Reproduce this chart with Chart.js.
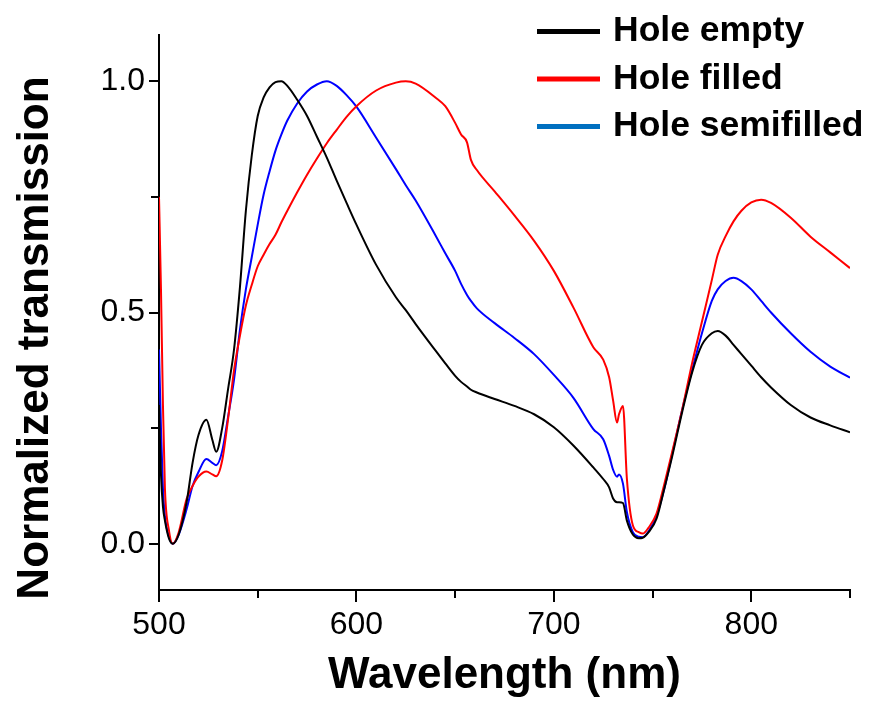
<!DOCTYPE html>
<html>
<head>
<meta charset="utf-8">
<script src="https://cdn.jsdelivr.net/npm/chart.js@4.4.0/dist/chart.umd.min.js"></script>
<style>
  html, body { margin: 0; padding: 0; background: #fff; }
  #wrap { width: 875px; height: 702px; position: relative; }
</style>
</head>
<body>
<div id="wrap"><canvas id="myChart"></canvas></div>
<script>
// wavelength grid (nm) shared by the three spectra
var wavelength = [500, 501, 502, 503, 505, 507, 510, 514, 517, 520,
  524, 527, 529, 532, 535, 538, 541, 544, 547, 550,
  553, 556, 559, 562, 565, 570, 575, 580, 585, 590,
  595, 600, 610, 620, 625, 630, 640, 645, 650, 653,
  656, 658, 661, 670, 680, 690, 700, 710, 720, 725,
  728, 730, 732, 733, 735, 737, 740, 743, 745, 748,
  752, 756, 760, 765, 770, 775, 780, 783, 787, 791,
  795, 800, 805, 810, 820, 830, 840, 850];

var holeEmpty = [0.30, 0.15, 0.08, 0.05, 0.012, 0.0, 0.02, 0.09, 0.175, 0.235,
  0.268, 0.225, 0.199, 0.25, 0.335, 0.42, 0.555, 0.72, 0.84, 0.925,
  0.965, 0.987, 0.998, 1.0, 0.99, 0.96, 0.925, 0.88, 0.835, 0.785,
  0.737, 0.69, 0.603, 0.533, 0.505, 0.475, 0.418, 0.39, 0.363, 0.35,
  0.34, 0.333, 0.327, 0.313, 0.298, 0.28, 0.252, 0.212, 0.165, 0.14,
  0.122, 0.098, 0.09, 0.09, 0.088, 0.05, 0.02, 0.012, 0.013, 0.025,
  0.054, 0.12, 0.19, 0.285, 0.37, 0.43, 0.455, 0.46, 0.45, 0.43,
  0.41, 0.385, 0.36, 0.338, 0.3, 0.273, 0.256, 0.241];

var holeFilled = [0.75, 0.55, 0.30, 0.12, 0.03, 0.0, 0.025, 0.097, 0.125, 0.145,
  0.156, 0.15, 0.146, 0.18, 0.27, 0.375, 0.45, 0.515, 0.56, 0.6,
  0.625, 0.648, 0.668, 0.695, 0.72, 0.76, 0.798, 0.833, 0.866, 0.895,
  0.923, 0.946, 0.98, 0.997, 1.0, 0.995, 0.965, 0.946, 0.91, 0.885,
  0.868, 0.83, 0.808, 0.762, 0.71, 0.655, 0.59, 0.51, 0.425, 0.398,
  0.36, 0.31, 0.262, 0.28, 0.298, 0.14, 0.04, 0.025, 0.022, 0.035,
  0.065, 0.13, 0.2, 0.29, 0.39, 0.48, 0.57, 0.625, 0.665, 0.697,
  0.72, 0.738, 0.744, 0.737, 0.705, 0.664, 0.63, 0.596];

var holeSemifilled = [0.42, 0.25, 0.12, 0.06, 0.015, 0.0, 0.02, 0.075, 0.125, 0.155,
  0.183, 0.175, 0.17, 0.2, 0.275, 0.355, 0.463, 0.55, 0.62, 0.69,
  0.755, 0.805, 0.85, 0.885, 0.915, 0.952, 0.978, 0.993, 1.0, 0.99,
  0.97, 0.945, 0.878, 0.81, 0.775, 0.742, 0.667, 0.628, 0.59, 0.562,
  0.538, 0.525, 0.509, 0.477, 0.445, 0.41, 0.365, 0.315, 0.248, 0.226,
  0.19, 0.16, 0.145, 0.15, 0.13, 0.068, 0.025, 0.015, 0.014, 0.027,
  0.06, 0.12, 0.195, 0.29, 0.375, 0.455, 0.525, 0.55, 0.568, 0.575,
  0.568, 0.55, 0.525, 0.5, 0.455, 0.415, 0.383, 0.359];

var seriesNames = ['Hole empty', 'Hole filled', 'Hole semifilled'];
var xTicks = [500, 600, 700, 800];
var xMinorTicks = [550, 650, 750, 850];
var yTicks = [0, 0.5, 1.0];
var yMinorTicks = [0.25, 0.75];

var FONT = '"Liberation Sans", Arial, sans-serif';
var lineColors = ['#000000', '#ff0000', '#0000ff'];
var legendColors = ['#000000', '#ff0000', '#0070c0'];

function toPoints(values) {
  return wavelength.map(function (w, i) { return { x: w, y: values[i] }; });
}

// minor ticks, rotated y title and the legend in the top right corner
var extras = {
  id: 'extras',
  afterDraw: function (chart) {
    var ctx = chart.ctx, xs = chart.scales.x, ys = chart.scales.y;
    ctx.save();
    ctx.strokeStyle = '#000';
    ctx.lineWidth = 2;
    xMinorTicks.forEach(function (v) {
      var px = Math.round(xs.getPixelForValue(v));
      ctx.beginPath();
      ctx.moveTo(px, ys.bottom);
      ctx.lineTo(px, ys.bottom + 8);
      ctx.stroke();
    });
    yMinorTicks.forEach(function (v) {
      var py = Math.round(ys.getPixelForValue(v));
      ctx.beginPath();
      ctx.moveTo(xs.left - 8, py);
      ctx.lineTo(xs.left, py);
      ctx.stroke();
    });

    ctx.save();
    ctx.translate(36, 338);
    ctx.rotate(-Math.PI / 2);
    ctx.font = 'bold 44px ' + FONT;
    ctx.fillStyle = '#000';
    ctx.textAlign = 'center';
    ctx.textBaseline = 'middle';
    ctx.fillText('Normalized transmission', 0, 0);
    ctx.restore();

    ctx.font = 'bold 35.5px ' + FONT;
    ctx.textAlign = 'left';
    ctx.textBaseline = 'alphabetic';
    seriesNames.forEach(function (name, i) {
      var y = 31.5 + i * 47.5;
      ctx.strokeStyle = legendColors[i];
      ctx.lineWidth = 5;
      ctx.beginPath();
      ctx.moveTo(537, y);
      ctx.lineTo(600, y);
      ctx.stroke();
      ctx.fillStyle = '#000';
      ctx.fillText(name, 613, y + 9.5);
    });
    ctx.restore();
  }
};

var ctx2 = document.getElementById('myChart').getContext('2d');
var chart = new Chart(ctx2, {
  type: 'line',
  data: {
    datasets: [
      { label: seriesNames[0], data: toPoints(holeEmpty), borderColor: lineColors[0] },
      { label: seriesNames[1], data: toPoints(holeFilled), borderColor: lineColors[1] },
      { label: seriesNames[2], data: toPoints(holeSemifilled), borderColor: lineColors[2] }
    ]
  },
  options: {
    responsive: true,
    maintainAspectRatio: false,
    animation: false,
    layout: { padding: { top: 35, right: 25, left: 0, bottom: 0 } },
    elements: {
      point: { radius: 0 },
      line: { borderWidth: 2, cubicInterpolationMode: 'monotone', fill: false }
    },
    plugins: { legend: { display: false }, tooltip: { enabled: false } },
    scales: {
      x: {
        type: 'linear',
        min: 500,
        max: 850,
        afterBuildTicks: function (s) { s.ticks = xTicks.map(function (v) { return { value: v }; }); },
        afterFit: function (s) { s.height = 112; },
        grid: { drawOnChartArea: false, drawTicks: true, tickLength: 12, color: '#000', lineWidth: 2 },
        border: { color: '#000', width: 2 },
        ticks: { color: '#000', font: { family: FONT, size: 32 }, padding: 4, maxRotation: 0 },
        title: {
          display: true,
          text: 'Wavelength (nm)',
          color: '#000',
          font: { family: FONT, size: 44, weight: 'bold' },
          padding: 0
        }
      },
      y: {
        min: -0.1,
        max: 1.1,
        afterBuildTicks: function (s) { s.ticks = yTicks.map(function (v) { return { value: v }; }); },
        afterFit: function (s) { s.width = 159; },
        grid: { drawOnChartArea: false, drawTicks: true, tickLength: 10, color: '#000', lineWidth: 2 },
        border: { color: '#000', width: 2 },
        ticks: {
          color: '#000',
          font: { family: FONT, size: 32 },
          padding: 4,
          callback: function (v) { return Number(v).toFixed(1); }
        }
      }
    }
  },
  plugins: [extras]
});
</script>
</body>
</html>
